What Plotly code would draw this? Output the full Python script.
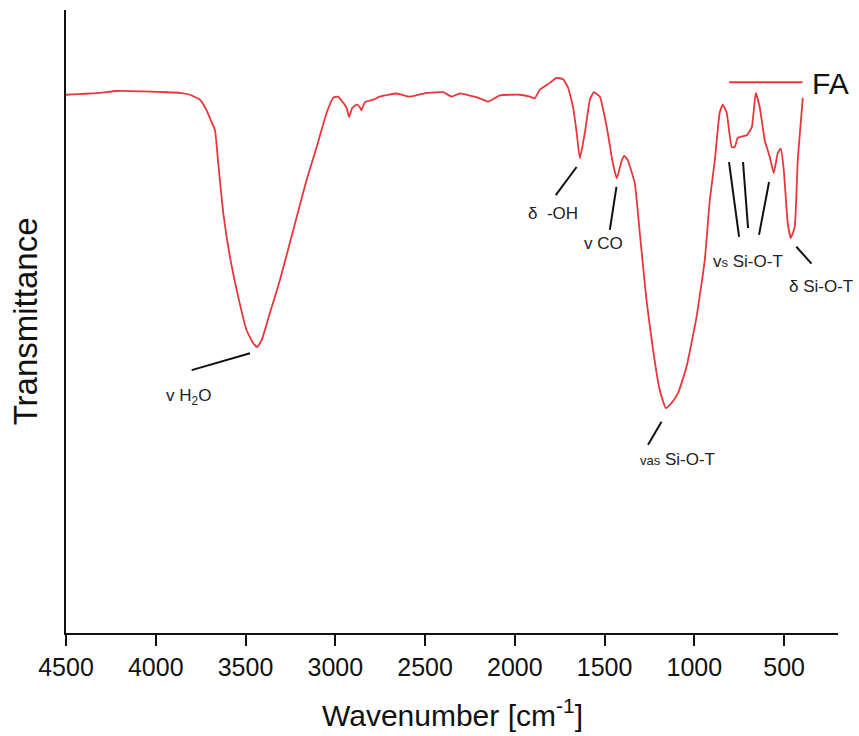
import plotly.graph_objects as go

# FTIR spectrum of fly ash (FA)
wavenumber = [
    4500, 4311, 4218, 3939, 3865, 3810, 3754, 3717, 3689, 3670,
    3652, 3624, 3587, 3541, 3494, 3457, 3435, 3410, 3364, 3308,
    3234, 3160, 3104, 3048, 3012, 2984, 2956, 2937, 2923, 2905,
    2880, 2863, 2854, 2835, 2789, 2752, 2659, 2585, 2492, 2399,
    2352, 2306, 2213, 2149, 2083, 1972, 1916, 1889, 1861, 1805,
    1768, 1731, 1703, 1675, 1656, 1638, 1610, 1582, 1560, 1527,
    1488, 1454, 1432, 1404, 1390, 1371, 1332, 1304, 1267, 1230,
    1193, 1159, 1128, 1091, 1044, 988, 942, 914, 886, 859,
    842, 820, 792, 775, 758, 708, 680, 658, 636, 608,
    580, 558, 536, 519, 502, 480, 463, 441, 424, 396,
]
transmittance = [
    86.4, 86.7, 87.0, 86.8, 86.7, 86.4, 85.6, 83.9, 82.0, 80.7,
    75.4, 67.4, 60.4, 54.0, 48.6, 46.5, 45.9, 47.0, 51.4, 56.7,
    64.7, 72.7, 78.0, 83.5, 85.9, 86.1, 85.1, 84.3, 82.8, 84.3,
    84.8, 84.4, 83.9, 85.2, 85.6, 86.1, 86.6, 86.1, 86.7, 86.8,
    86.1, 86.6, 86.0, 85.3, 86.3, 86.4, 86.1, 85.8, 87.2, 88.3,
    89.1, 88.9, 87.5, 84.3, 80.4, 76.2, 80.3, 85.6, 86.8, 86.1,
    81.2, 75.4, 73.0, 75.9, 76.6, 75.9, 72.2, 64.2, 53.5, 45.4,
    39.0, 36.1, 36.9, 38.5, 42.7, 50.7, 59.9, 69.5, 75.9, 83.5,
    84.8, 83.5, 78.0, 78.0, 79.5, 79.9, 81.2, 86.7, 84.4, 79.1,
    76.4, 73.8, 77.0, 77.8, 74.3, 65.8, 63.4, 65.2, 75.9, 85.9,
]

x_ticks = [4500, 4000, 3500, 3000, 2500, 2000, 1500, 1000, 500]
x_range = [4500, 200]
y_range = [0, 100]

# band assignments: label text and label position
band_labels = [
    ("v H<sub>2</sub>O", 3815, 37.9),
    ("δ  -OH", 1786, 67.4),
    ("v CO", 1504, 62.6),
    ("v<span style='font-size:13px'>s</span> Si-O-T", 701, 59.6),
    ("δ Si-O-T", 292, 55.6),
    ("<span style='font-size:13px'>vas</span> Si-O-T", 1092, 27.8),
]
# leader lines from band to label (wn0, T0, wn1, T1)
leader_lines = [
    (3800, 42.2, 3475, 44.9),
    (1656, 74.8, 1772, 70.3),
    (1434, 71.6, 1471, 64.7),
    (807, 75.6, 751, 63.6),
    (729, 75.6, 701, 65.0),
    (584, 72.4, 640, 63.9),
    (432, 62.0, 348, 59.3),
    (1183, 33.9, 1258, 30.2),
]

RED = "#e8363b"
FONT = "Liberation Sans, Arial, sans-serif"

fig = go.Figure()
fig.add_trace(go.Scatter(
    x=wavenumber, y=transmittance, mode="lines", name="FA",
    line=dict(color=RED, width=1.8, shape="spline", smoothing=0.4),
    showlegend=False,
))

shapes = []
for x0, y0, x1, y1 in leader_lines:
    shapes.append(dict(type="line", xref="x", yref="y", x0=x0, y0=y0, x1=x1, y1=y1,
                       line=dict(color="#111111", width=2)))

# legend sample
shapes.append(dict(type="line", xref="paper", yref="paper",
                   x0=0.859, x1=0.954, y0=0.884, y1=0.884,
                   line=dict(color=RED, width=1.8)))

annotations = []
for text, x, y in band_labels:
    annotations.append(dict(text=text, x=x, y=y, xref="x", yref="y",
                            showarrow=False, xanchor="center", yanchor="middle",
                            font=dict(size=17, color="#222222", family=FONT)))

annotations.append(dict(text="FA", xref="paper", yref="paper", x=0.964, y=0.882,
                        xanchor="left", yanchor="middle", showarrow=False,
                        font=dict(size=30, color="#111111", family=FONT)))
annotations.append(dict(text="Transmittance", xref="paper", yref="paper",
                        x=-0.052, y=0.5, textangle=-90, showarrow=False,
                        xanchor="center", yanchor="middle",
                        font=dict(size=33, color="#111111", family=FONT)))
annotations.append(dict(text="Wavenumber [cm<sup>-1</sup>]", xref="paper", yref="paper",
                        x=0.5, y=-0.128, showarrow=False,
                        xanchor="center", yanchor="middle",
                        font=dict(size=30, color="#111111", family=FONT)))

fig.update_layout(
    width=859, height=736,
    margin=dict(l=66, r=21, t=10, b=103),
    paper_bgcolor="white", plot_bgcolor="white",
    font=dict(family=FONT, color="#111111"),
    shapes=shapes, annotations=annotations,
    xaxis=dict(range=x_range, tickvals=x_ticks, ticks="outside", ticklen=11,
               tickwidth=2, tickcolor="#111111", showline=True, linecolor="#111111",
               linewidth=2, showgrid=False, zeroline=False,
               tickfont=dict(size=25, color="#111111", family=FONT)),
    yaxis=dict(range=y_range, showticklabels=False, ticks="", showline=True,
               linecolor="#111111", linewidth=2, showgrid=False, zeroline=False),
)

fig.write_html("out.html")
